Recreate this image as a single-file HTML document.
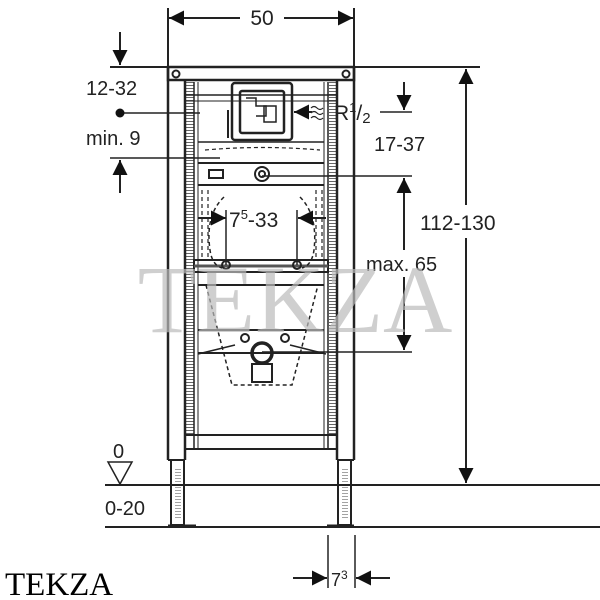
<!DOCTYPE html>
<html><head><meta charset="utf-8"><style>
html,body{margin:0;padding:0;background:#fff;}
svg{display:block;}
text{font-family:"Liberation Sans",sans-serif;fill:#222;}
</style></head><body>
<svg width="600" height="600" viewBox="0 0 600 600" xmlns="http://www.w3.org/2000/svg">
<defs>
<marker id="a" viewBox="0 0 10 10" refX="10" refY="5" markerWidth="15" markerHeight="15" markerUnits="userSpaceOnUse" orient="auto"><path d="M0,0L10,5L0,10z" fill="#111"/></marker>
<pattern id="h" width="4" height="3" patternUnits="userSpaceOnUse"><line x1="0" y1="1.5" x2="4" y2="1.5" stroke="#666" stroke-width="1"/></pattern>
</defs>
<rect x="186" y="82" width="8" height="352" fill="url(#h)"/>
<rect x="329" y="82" width="8" height="352" fill="url(#h)"/>
<rect x="175" y="468" width="6" height="50" fill="url(#h)" opacity="0.6"/>
<rect x="342" y="468" width="6" height="50" fill="url(#h)" opacity="0.6"/>
<g stroke="#222" fill="none" stroke-width="2">
<line x1="168" y1="8" x2="168" y2="67"/>
<line x1="354" y1="8" x2="354" y2="67"/>
<line x1="240" y1="18" x2="169" y2="18" marker-end="url(#a)"/>
<line x1="284" y1="18" x2="353" y2="18" marker-end="url(#a)"/>
<line x1="120" y1="32" x2="120" y2="65" marker-end="url(#a)"/>
<line x1="110" y1="67" x2="168" y2="67"/>
<line x1="120" y1="113" x2="200" y2="113" stroke-width="1.5"/>
<circle cx="120" cy="113" r="4.5" fill="#111" stroke="none"/>
<line x1="110" y1="158" x2="220" y2="158" stroke-width="1.5"/>
<line x1="120" y1="193" x2="120" y2="160" marker-end="url(#a)"/>
<line x1="354" y1="67" x2="480" y2="67"/>
<line x1="466" y1="205" x2="466" y2="69" marker-end="url(#a)"/>
<line x1="466" y1="238" x2="466" y2="483" marker-end="url(#a)"/>
<line x1="404" y1="82" x2="404" y2="110" marker-end="url(#a)"/>
<line x1="380" y1="112" x2="412" y2="112" stroke-width="1.5"/>
<line x1="262" y1="176" x2="412" y2="176" stroke-width="1.5"/>
<line x1="404" y1="250" x2="404" y2="178" marker-end="url(#a)"/>
<line x1="404" y1="277" x2="404" y2="350" marker-end="url(#a)"/>
<line x1="262" y1="352" x2="412" y2="352" stroke-width="1.5"/>
<line x1="105" y1="485" x2="600" y2="485"/>
<line x1="105" y1="527" x2="600" y2="527"/>
<path d="M108,462L132,462L120,484z" stroke-width="1.5"/>
<line x1="328" y1="535" x2="328" y2="588" stroke-width="1.5"/>
<line x1="355" y1="535" x2="355" y2="588" stroke-width="1.5"/>
<line x1="293" y1="578" x2="327" y2="578" marker-end="url(#a)"/>
<line x1="390" y1="578" x2="356" y2="578" marker-end="url(#a)"/>
<line x1="312" y1="112" x2="294" y2="112" marker-end="url(#a)"/>
<path d="M311,108q3,-3 6,0t6,0M311,113q3,-3 6,0t6,0M311,118q3,-3 6,0t6,0" stroke-width="1.2"/>
<rect x="168" y="67" width="186" height="13" stroke-width="2.5"/>
<circle cx="176" cy="74" r="3.5" stroke-width="2"/>
<circle cx="346" cy="74" r="3.5" stroke-width="2"/>
<line x1="168" y1="67" x2="168" y2="460" stroke-width="2.5"/>
<line x1="185" y1="80" x2="185" y2="460" stroke-width="2.5"/>
<line x1="354" y1="67" x2="354" y2="460" stroke-width="2.5"/>
<line x1="337" y1="80" x2="337" y2="460" stroke-width="2.5"/>
<line x1="168" y1="460" x2="185" y2="460"/>
<line x1="337" y1="460" x2="354" y2="460"/>
<line x1="194" y1="82" x2="194" y2="450" stroke-width="1.5"/>
<line x1="328" y1="82" x2="328" y2="450" stroke-width="1.5"/>
<line x1="198" y1="82" x2="198" y2="450" stroke-width="1"/>
<line x1="324" y1="82" x2="324" y2="450" stroke-width="1"/>
<rect x="171" y="460" width="13" height="65" stroke-width="2"/>
<rect x="338" y="460" width="13" height="65" stroke-width="2"/>
<line x1="168" y1="526" x2="196" y2="526" stroke-width="3"/>
<line x1="327" y1="526" x2="354" y2="526" stroke-width="3"/>
<line x1="185" y1="95" x2="337" y2="95" stroke-width="1.5"/>
<line x1="185" y1="101" x2="337" y2="101" stroke-width="1"/>
<line x1="198" y1="142" x2="324" y2="142" stroke-width="1.5"/>
<line x1="198" y1="163" x2="324" y2="163" stroke-width="2"/>
<line x1="198" y1="185" x2="324" y2="185" stroke-width="2"/>
<rect x="194" y="260" width="134" height="12" stroke-width="2"/>
<line x1="194" y1="266" x2="328" y2="266" stroke-width="3" stroke="#555"/>
<line x1="198" y1="285" x2="324" y2="285" stroke-width="2"/>
<line x1="198" y1="330" x2="324" y2="330" stroke-width="2"/>
<line x1="198" y1="353" x2="324" y2="353" stroke-width="2"/>
<line x1="185" y1="435" x2="337" y2="435" stroke-width="2"/>
<line x1="185" y1="449" x2="337" y2="449" stroke-width="2"/>
<rect x="232" y="83" width="60" height="57" rx="3" stroke-width="2.5"/>
<rect x="240" y="91" width="44" height="42" rx="2" stroke-width="2.5"/>
<path d="M246,98h10v8h10v10h-10" stroke-width="1.5"/>
<rect x="264" y="106" width="12" height="16" stroke-width="1.5"/>
<line x1="228" y1="110" x2="228" y2="138" stroke-width="2"/>
<circle cx="262" cy="174" r="7" stroke-width="2"/><circle cx="262" cy="174" r="3"/>
<rect x="209" y="170" width="14" height="8" stroke-width="2"/>
<path d="M224,197 Q205,215 210,250 Q212,265 222,268" stroke-dasharray="4,3" stroke-width="1.5"/>
<path d="M300,197 Q318,215 314,250 Q312,265 302,268" stroke-dasharray="4,3" stroke-width="1.5"/>
<path d="M206,285 L232,385 L292,385 L318,285" stroke-dasharray="4,3" stroke-width="1.5"/>
<path d="M205,150 Q262,145 320,150" stroke-dasharray="4,3" stroke-width="1.2"/>
<path d="M202,190v70M208,190v70M316,190v70M322,190v70" stroke-dasharray="4,3" stroke-width="1.2"/>
<line x1="198" y1="218" x2="226" y2="218" marker-end="url(#a)"/>
<line x1="326" y1="218" x2="298" y2="218" marker-end="url(#a)"/>
<line x1="226" y1="210" x2="226" y2="265" stroke-width="1.5"/>
<line x1="297" y1="210" x2="297" y2="265" stroke-width="1.5"/>
<circle cx="226" cy="265" r="4" stroke-width="2"/>
<circle cx="297" cy="265" r="4" stroke-width="2"/>
<circle cx="262" cy="353" r="10" stroke-width="3.5"/>
<rect x="252" y="364" width="20" height="18" stroke-width="2"/>
<circle cx="245" cy="338" r="4" stroke-width="2"/>
<circle cx="285" cy="338" r="4" stroke-width="2"/>
<path d="M198,354L235,345M326,354L290,345" stroke-width="1.5"/>
</g>
<text x="262" y="25" font-size="21" text-anchor="middle">50</text>
<text x="86" y="95" font-size="20">12-32</text>
<text x="86" y="145" font-size="20">min. 9</text>
<text x="334" y="120" font-size="21">R<tspan font-size="13" dy="-8">1</tspan><tspan dy="8">/</tspan><tspan font-size="15" dy="3">2</tspan></text>
<text x="374" y="151" font-size="20">17-37</text>
<text x="229" y="227" font-size="21">7<tspan font-size="13" dy="-8">5</tspan><tspan dy="8">-33</tspan></text>
<text x="420" y="230" font-size="21">112-130</text>
<text x="366" y="271" font-size="20">max. 65</text>
<text x="113" y="458" font-size="20">0</text>
<text x="105" y="515" font-size="20">0-20</text>
<text x="331" y="586" font-size="18">7<tspan font-size="12" dy="-7">3</tspan></text>
<text x="295" y="332" font-size="96" text-anchor="middle" style="font-family:'Liberation Serif',serif;fill:#bbb;opacity:0.7">TEKZA</text>
<text x="5" y="595" font-size="33" style="font-family:'Liberation Serif',serif;fill:#000">TEKZA</text>
</svg>
</body></html>
